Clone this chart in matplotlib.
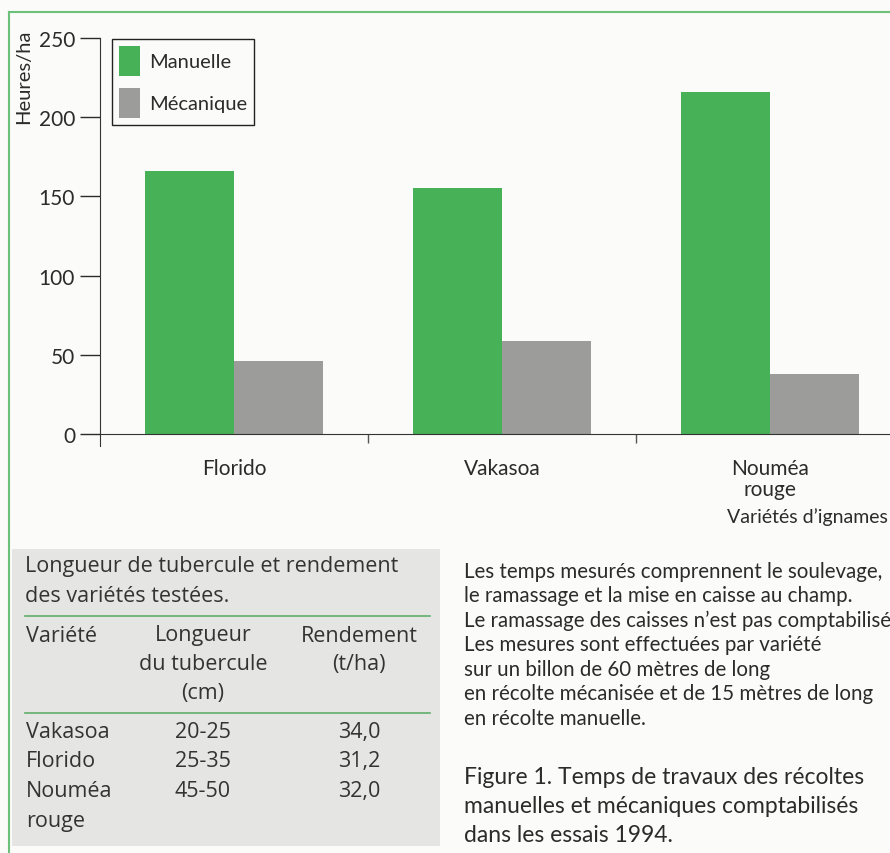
import matplotlib
matplotlib.use("Agg")
import matplotlib.pyplot as plt
import numpy as np
from matplotlib.lines import Line2D
from matplotlib.patches import Rectangle

# Chart data
varieties = ["Florido", "Vakasoa", "Nouméa\nrouge"]
manuelle = [166, 155, 216]
mecanique = [46, 59, 38]
y_ticks = [0, 50, 100, 150, 200, 250]

# Inset table data
table_rows = ["Vakasoa", "Florido", "Nouméa\nrouge"]
longueur = ["20-25", "25-35", "45-50"]
rendement = ["34,0", "31,2", "32,0"]

notes = [
    "Les temps mesurés comprennent le soulevage,",
    "le ramassage et la mise en caisse au champ.",
    "Le ramassage des caisses n’est pas comptabilisé",
    "Les mesures sont effectuées par variété",
    "sur un billon de 60 mètres de long",
    "en récolte mécanisée et de 15 mètres de long",
    "en récolte manuelle.",
]
caption = [
    "Figure 1. Temps de travaux des récoltes",
    "manuelles et mécaniques comptabilisés",
    "dans les essais 1994.",
]

GREEN = "#46b156"
GREY = "#9c9d9b"
FRAME_GREEN = "#6cc07a"
TXT = "#2b2b2b"
W, H = 890, 854
PT = 0.72  # points per pixel at 100 dpi

plt.rcParams["font.family"] = ["Lato", "DejaVu Sans"]

fig = plt.figure(figsize=(W / 100, H / 100), dpi=100)
fig.patch.set_facecolor("#fbfbf9")


def fx(px):
    return px / W


def fy(py):
    return 1 - py / H


# Bar chart axes (extends past the right edge of the figure)
ax = fig.add_axes([fx(100), fy(435), fx(904) - fx(100), fy(39) - fy(435)])
ax.set_facecolor("none")
x = np.arange(len(varieties))
bw = 1 / 3
ax.bar(x - bw / 2, manuelle, width=bw, color=GREEN, label="Manuelle")
ax.bar(x + bw / 2, mecanique, width=bw, color=GREY, label="Mécanique")
ax.set_xlim(-0.5, 2.5)
ax.set_ylim(0, 250)
for s in ["top", "right"]:
    ax.spines[s].set_visible(False)
ax.spines["left"].set_bounds(-7.5, 250)
ax.spines["left"].set_color("#333333")
ax.spines["bottom"].set_color("#333333")
ax.set_yticks(y_ticks)
ax.tick_params(axis="y", direction="out", length=20 * PT, width=1,
               pad=5 * PT, labelsize=15, colors=TXT)
ax.set_xticks(x)
ax.set_xticklabels(varieties, fontsize=15, color=TXT, linespacing=1.1)
ax.tick_params(axis="x", length=0, pad=17)
ax.set_xticks([0.5, 1.5], minor=True)
ax.tick_params(axis="x", which="minor", direction="out", length=9 * PT,
               width=1, color="#555555")

leg = ax.legend(loc="upper left", bbox_to_anchor=(fx(112), fy(40)),
                bbox_transform=fig.transFigure, fancybox=False,
                edgecolor="#222222", framealpha=1, facecolor="#fbfbf9",
                fontsize=14.5, handlelength=1.05, handleheight=1.9,
                labelspacing=0.6, borderpad=0.35, handletextpad=0.45,
                borderaxespad=0)
leg.get_frame().set_linewidth(1.0)
for t in leg.get_texts():
    t.set_color(TXT)

fig.text(fx(24), fy(30), "Heures/ha", rotation=90, ha="center", va="top",
         fontsize=14.5, color=TXT)
fig.text(fx(888), fy(517), "Variétés d’ignames", ha="right", va="center",
         fontsize=14, color=TXT)

# Green frame lines
fig.add_artist(Line2D([fx(9), 1], [fy(13), fy(13)], color=FRAME_GREEN, lw=1.5))
fig.add_artist(Line2D([fx(9), fx(9)], [fy(13), 0], color=FRAME_GREEN, lw=1.5))

# Inset table
fig.add_artist(Rectangle((fx(12), fy(847)), fx(440) - fx(12), fy(550) - fy(847),
                         facecolor="#e5e5e3", edgecolor="none"))
tfont = dict(fontsize=15.5, color="#333333", family=["Open Sans", "DejaVu Sans"])
fig.text(fx(25), fy(567), "Longueur de tubercule et rendement",
         va="center", **tfont)
fig.text(fx(25), fy(597), "des variétés testées.", va="center", **tfont)
for yy in (617, 714):
    fig.add_artist(Line2D([fx(25), fx(430)], [fy(yy), fy(yy)],
                          color="#5fae6a", lw=1.2))
fig.text(fx(26), fy(636), "Variété", va="center", **tfont)
for i, s in enumerate(["Longueur", "du tubercule", "(cm)"]):
    fig.text(fx(203), fy(636 + 29 * i), s, ha="center", va="center", **tfont)
for i, s in enumerate(["Rendement", "(t/ha)"]):
    fig.text(fx(359), fy(636 + 29 * i), s, ha="center", va="center", **tfont)
row_y = [733, 762, 792]
for name, lg, rd, yy in zip(table_rows, longueur, rendement, row_y):
    for j, part in enumerate(name.split("\n")):
        fig.text(fx(26), fy(yy + 30 * j), part, va="center", **tfont)
    fig.text(fx(203), fy(yy), lg, ha="center", va="center", **tfont)
    fig.text(fx(359), fy(yy), rd, ha="center", va="center", **tfont)

# Notes and caption
for i, s in enumerate(notes):
    fig.text(fx(464), fy(572 + 24.5 * i), s, va="center", fontsize=14.8,
             color=TXT)
for i, s in enumerate(caption):
    fig.text(fx(464), fy(778 + 29 * i), s, va="center", fontsize=16.5,
             color=TXT)

fig.savefig("out.png", dpi=100, facecolor=fig.get_facecolor())
